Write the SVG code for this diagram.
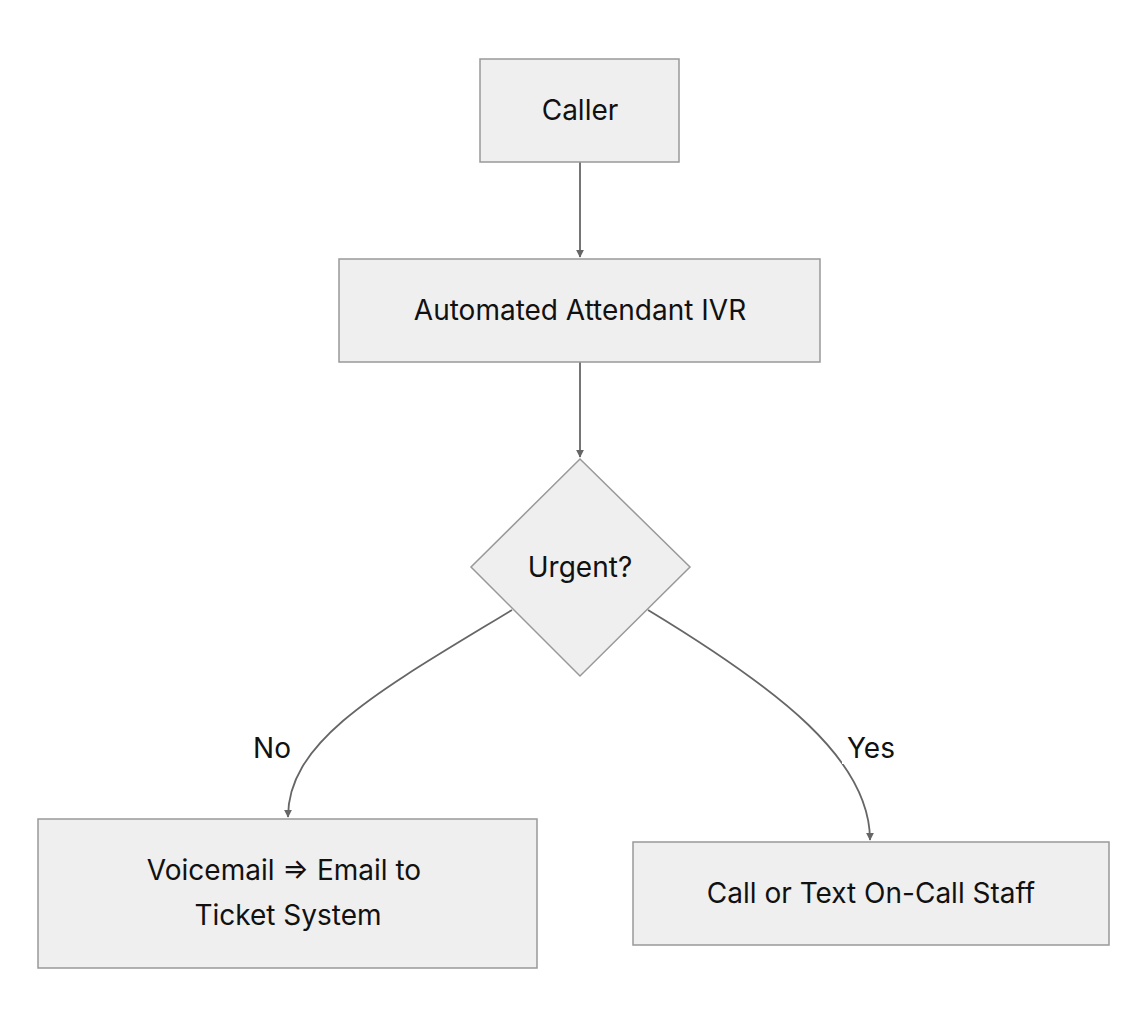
<svg xmlns="http://www.w3.org/2000/svg" width="1148" height="1028" viewBox="0 0 1148 1028">
<style>
.n{fill:#efefef;stroke:#999;stroke-width:1.5}
.t{font-family:Inter,"Liberation Sans",sans-serif;font-size:28px;fill:#111;text-anchor:middle;dominant-baseline:central}
.e{fill:none;stroke:#666;stroke-width:1.8}
</style>
<defs><marker id="a" viewBox="0 0 10 10" refX="9" refY="5" markerWidth="8" markerHeight="8" markerUnits="userSpaceOnUse" orient="auto"><path d="M0,0L10,5L0,10z" fill="#666"/></marker></defs>
<rect width="1148" height="1028" fill="#fff"/>
<g id="edges">
<path class="e" d="M580,162V257" marker-end="url(#a)"/>
<path class="e" d="M580,362V457" marker-end="url(#a)"/>
<path class="e" d="M512,610C380,690 288,740 288,817" marker-end="url(#a)"/>
<path class="e" d="M648,610C780,690 870,760 870,840" marker-end="url(#a)"/>
<rect x="842" y="732" width="56" height="32" fill="#fff"/>
<text class="t" x="272" y="748">No</text>
<text class="t" x="871" y="748">Yes</text>
</g>
<g id="caller"><rect class="n" x="480" y="59" width="199" height="103"/><text class="t" x="580" y="110">Caller</text></g>
<g id="ivr"><rect class="n" x="339" y="259" width="481" height="103"/><text class="t" x="580" y="310">Automated Attendant IVR</text></g>
<g id="urgent"><path class="n" d="M580,459L690,567L580,676L471,567Z"/><text class="t" x="580" y="567">Urgent?</text></g>
<g id="vm"><rect class="n" x="38" y="819" width="499" height="149"/><text class="t" x="284" y="870">Voicemail ⇒ Email to</text><text class="t" x="288" y="915">Ticket System</text></g>
<g id="call"><rect class="n" x="633" y="842" width="476" height="103"/><text class="t" x="871" y="893">Call or Text On-Call Staff</text></g>
</svg>
